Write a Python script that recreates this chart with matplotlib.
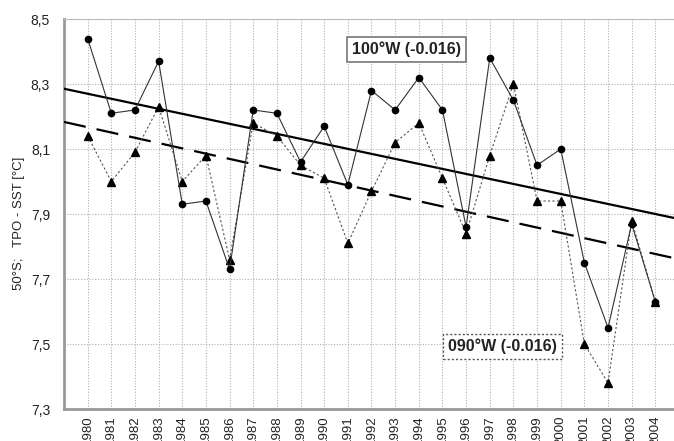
import matplotlib
matplotlib.use("Agg")
import matplotlib.pyplot as plt
import numpy as np

plt.rcParams['font.family'] = ['Liberation Sans', 'DejaVu Sans']

years = list(range(1980, 2005))
w100 = [8.44, 8.21, 8.22, 8.37, 7.93, 7.94, 7.73, 8.22, 8.21, 8.06, 8.17, 7.99, 8.28,
        8.22, 8.32, 8.22, 7.86, 8.38, 8.25, 8.05, 8.10, 7.75, 7.55, 7.87, 7.63]
w090 = [8.14, 8.00, 8.09, 8.23, 8.00, 8.08, 7.76, 8.18, 8.14, 8.05, 8.01, 7.81, 7.97,
        8.12, 8.18, 8.01, 7.84, 8.08, 8.30, 7.94, 7.94, 7.50, 7.38, 7.88, 7.63]
# trend lines: value at 1980 and 2004
trend100 = [8.27, 7.90]
trend090 = [8.167, 7.777]
yticks = [7.3, 7.5, 7.7, 7.9, 8.1, 8.3, 8.5]
label100 = "100°W (-0.016)"
label090 = "090°W (-0.016)"
ylabel = "50°S;   TPO - SST [°C]"

fig = plt.figure(figsize=(6.74, 4.41), dpi=100)
ax = fig.add_axes([64/674, 32/441, 1.0074 - 64/674, (409-19)/441])
ax.set_xlim(1979, 2005)
ax.set_ylim(7.3, 8.5)

ax.grid(True, color='#b0b0b0', linestyle=(0, (1, 1.5)), linewidth=0.8)
ax.set_axisbelow(True)

# trend lines extended across axis
xs = np.array([1979, 2005])
s100 = (trend100[1] - trend100[0]) / 24
s090 = (trend090[1] - trend090[0]) / 24
ax.plot(xs, trend100[0] + s100 * (xs - 1980), color='black', lw=1.6, zorder=3)
ax.plot(xs, trend090[0] + s090 * (xs - 1980), color='black', lw=1.6,
        dashes=(10, 5), zorder=3)

ax.plot(years, w090, color='#555555', lw=0.8, linestyle=(0, (2, 2)),
        marker='^', ms=5.5, mfc='black', mec='black', zorder=4)
ax.plot(years, w100, color='#333333', lw=0.8, linestyle='-',
        marker='o', ms=4.5, mfc='black', mec='black', zorder=5)

ax.text(1993.47, 8.406, label100, ha='center', va='center', fontsize=11.5,
        fontweight='bold', color='#222222', zorder=6,
        bbox=dict(boxstyle='square,pad=0.3', fc='white', ec='#777777', lw=1.2))
ax.text(1997.53, 7.492, label090, ha='center', va='center', fontsize=11.5,
        fontweight='bold', color='#222222', zorder=6,
        bbox=dict(boxstyle='square,pad=0.3', fc='white', ec='#555555', lw=1.0,
                  linestyle=(0, (1.5, 1.5))))

ax.set_xticks(years)
ax.set_xticklabels([str(y) for y in years], rotation=90, fontsize=9.5, color='#222222')
ax.set_yticks(yticks)
ax.set_yticklabels([f"{v:.1f}".replace('.', ',') for v in yticks], fontsize=10, color='#222222')
ax.tick_params(axis='both', length=0)
ax.tick_params(axis='y', pad=10)
ax.tick_params(axis='x', pad=4.5)

for side in ['left', 'bottom']:
    ax.spines[side].set_color('#999999')
    ax.spines[side].set_linewidth(2)
ax.spines['top'].set_color('#bbbbbb')
ax.spines['top'].set_linewidth(0.8)
ax.spines['right'].set_visible(False)

ax.set_ylabel(ylabel, fontsize=9.5, color='#222222')
ax.yaxis.set_label_coords(-0.064, 0.477)

fig.savefig("out.png", dpi=100)
